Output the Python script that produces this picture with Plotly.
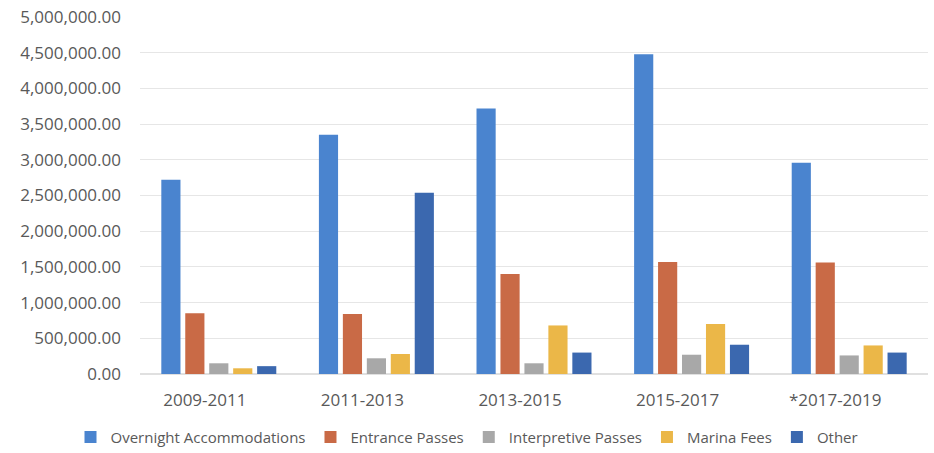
import plotly.graph_objects as go

categories = ["2009-2011", "2011-2013", "2013-2015", "2015-2017", "*2017-2019"]
overnight = [2720000, 3350000, 3720000, 4480000, 2960000]
entrance = [850000, 840000, 1400000, 1570000, 1560000]
interpretive = [150000, 220000, 150000, 270000, 260000]
marina = [80000, 280000, 680000, 700000, 400000]
other = [110000, 2540000, 300000, 410000, 300000]

series = [
    ("Overnight Accommodations", overnight, "#4A84CF"),
    ("Entrance Passes", entrance, "#C96A46"),
    ("Interpretive Passes", interpretive, "#A8A8A8"),
    ("Marina Fees", marina, "#EBB748"),
    ("Other", other, "#3B68AF"),
]

fig = go.Figure()
for name, vals, color in series:
    fig.add_trace(go.Bar(name=name, x=categories, y=vals, marker_color=color,
                         marker_line_width=0))

fam = "Open Sans, Noto Sans, sans-serif"
tickfont = dict(family=fam, size=17, color="#595959")
fig.update_layout(
    width=934, height=453,
    margin=dict(l=140, r=6, t=17, b=79, autoexpand=False),
    paper_bgcolor="white", plot_bgcolor="white",
    barmode="group", bargap=0.24, bargroupgap=0.2,
    font=dict(family=fam, size=15, color="#595959"),
    showlegend=True,
    legend=dict(orientation="h", xref="container", yref="container",
                x=0.5, xanchor="center", y=0.035, yanchor="middle",
                font=dict(family=fam, size=15, color="#595959"),
                itemwidth=30, tracegroupgap=0),
)
fig.update_yaxes(range=[0, 5000000], dtick=500000, tickformat=",.2f",
                 showgrid=True, gridcolor="#E6E6E6", gridwidth=1,
                 zeroline=True, zerolinecolor="#E0E0E0",
                 ticklabelstandoff=18, tickfont=tickfont, showline=False)
fig.update_xaxes(tickfont=tickfont, showline=False, ticklabelshift=-14,
                 ticklabelstandoff=14)

fig.write_html("out.html", config={"displayModeBar": False},
               post_script="document.body.style.margin='0';document.body.style.padding='0';")
